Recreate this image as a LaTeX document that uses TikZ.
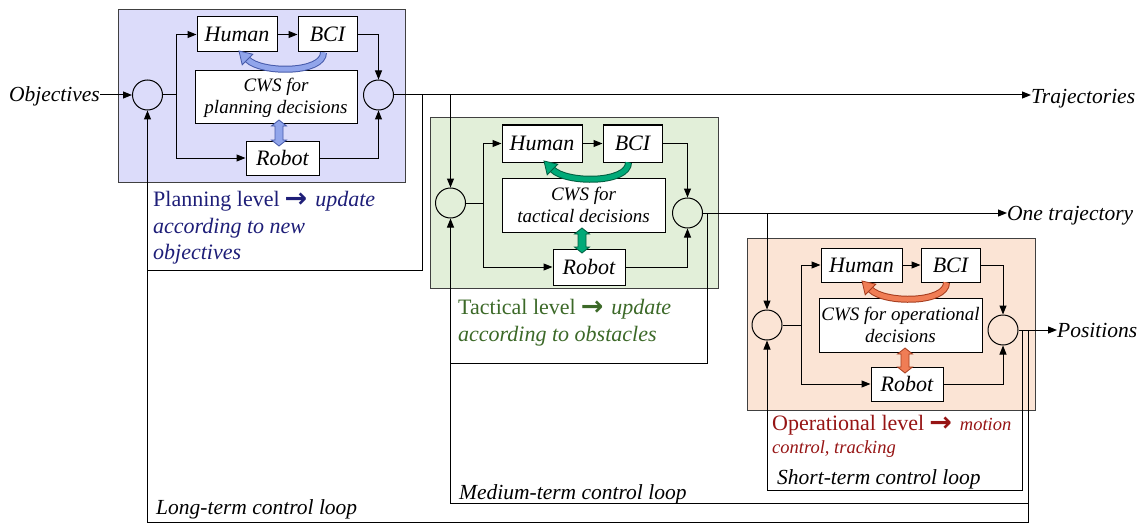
\documentclass[tikz,border=0pt]{standalone}
\usepackage{fontspec}
\setmainfont{Liberation Serif}
\newfontfamily\dejavu{DejaVu Sans}
\usetikzlibrary{arrows.meta}
\definecolor{planfill}{RGB}{220,220,250}
\definecolor{tactfill}{RGB}{226,239,217}
\definecolor{operfill}{RGB}{251,228,213}
\definecolor{plantext}{RGB}{30,30,120}
\definecolor{tacttext}{RGB}{60,105,40}
\definecolor{opertext}{RGB}{150,20,20}
\definecolor{planarcf}{RGB}{145,165,235}
\definecolor{planarcd}{RGB}{70,90,170}
\definecolor{tactarcf}{RGB}{0,170,120}
\definecolor{tactarcd}{RGB}{0,95,65}
\definecolor{operarcf}{RGB}{240,125,85}
\definecolor{operarcd}{RGB}{165,60,30}
\tikzset{
  arr/.style={-{Triangle[length=9pt,width=7pt]}, line width=1pt},
  ln/.style={line width=1pt},
  blk/.style={draw, fill=white, line width=1pt, inner sep=0pt, font=\fontsize{22}{26}\selectfont\itshape},
  cws/.style={draw, fill=white, line width=1pt, inner sep=0pt, align=center, font=\fontsize{19}{22}\selectfont\itshape},
  sumnode/.style={circle, draw, line width=1pt, minimum size=30pt, inner sep=0pt},
  levelbox/.style={draw=black!75, line width=1pt, inner sep=0pt},
  lbl/.style={inner sep=0pt, anchor=base west, font=\fontsize{21.5}{26}\selectfont\itshape},
  lvl/.style={inner sep=0pt, anchor=base west, font=\fontsize{22}{26}\selectfont},
}
\newcommand{\cwsarc}[3]{%
  \begin{scope}[shift={(#1.south west)}]
    \draw[line width=7pt, #3] (26,0) .. controls (26,21) and (-36,21) .. (-50,7);
    \draw[line width=5pt, #2] (26,0) .. controls (26,21) and (-36,21) .. (-50,7);
    \filldraw[fill=#2, draw=#3, line width=0.8pt] (-44.7,1.7) -- (-58.5,-1.5) -- (-55.3,12.3) -- cycle;
  \end{scope}}
\newcommand{\dblarr}[5]{%
  \filldraw[fill=#4, draw=#5, line width=0.8pt] (#1,#2) -- (#1+7.5,#2+6) -- (#1+4,#2+6) -- (#1+4,#3-6) -- (#1+7.5,#3-6) -- (#1,#3) -- (#1-7.5,#3-6) -- (#1-4,#3-6) -- (#1-4,#2+6) -- (#1-7.5,#2+6) -- cycle;}
\newcommand{\warr}{\hspace{5pt}\raisebox{-1.5pt}{\fontsize{27}{27}\dejavu\bfseries →}\hspace{8pt}}
\begin{document}
\begin{tikzpicture}[x=1pt,y=-1pt]
\useasboundingbox (0,0) rectangle (1142,524);
% level boxes
\node[levelbox, fill=planfill, minimum width=287pt, minimum height=172pt] (Pbox) at (261.5,96) {};
\node[levelbox, fill=tactfill, minimum width=288pt, minimum height=170pt] (Tbox) at (574,203) {};
\node[levelbox, fill=operfill, minimum width=288pt, minimum height=172pt] (Obox) at (891,324) {};
% planning level
\node[blk, minimum width=80pt, minimum height=35pt] (PH) at (237,34.5) {Human};
\node[blk, minimum width=59pt, minimum height=35pt] (PB) at (327.5,34.5) {BCI};
\node[cws, minimum width=162pt, minimum height=53pt] (PC) at (276,97.5) {CWS for\\planning decisions};
\node[blk, minimum width=73pt, minimum height=34pt] (PRo) at (282.5,158) {Robot};
\node[sumnode] (PL) at (147.5,95) {};
\node[sumnode] (PO) at (378.5,95) {};
% tactical level
\node[blk, minimum width=80pt, minimum height=37pt] (TH) at (542,143.5) {Human};
\node[blk, minimum width=59pt, minimum height=37pt] (TB) at (632.5,143.5) {BCI};
\node[cws, minimum width=163pt, minimum height=54pt] (TC) at (583.5,205) {CWS for\\tactical decisions};
\node[blk, minimum width=72pt, minimum height=36pt] (TRo) at (589,267) {Robot};
\node[sumnode] (TL) at (450.5,203) {};
\node[sumnode] (TO) at (687.5,213) {};
% operational level
\node[blk, minimum width=81pt, minimum height=34pt] (OH) at (861.5,265) {Human};
\node[blk, minimum width=59pt, minimum height=34pt] (OB) at (950.5,265) {BCI};
\node[cws, minimum width=163pt, minimum height=54pt] (OC) at (900.5,325) {CWS for operational\\decisions};
\node[blk, minimum width=72pt, minimum height=34pt] (ORo) at (907,384) {Robot};
\node[sumnode] (OL) at (767,325) {};
\node[sumnode] (OO) at (1003,330) {};
% outer labels
\node[lbl, anchor=base east] (obj) at (100,102) {Objectives};
\node[lbl] (traj) at (1031,103) {Trajectories};
\node[lbl] (onetraj) at (1007,220) {One trajectory};
\node[lbl] (pos) at (1057,337) {Positions};
% helper coordinates
\coordinate (Pb) at (176,95);
\coordinate (Tb) at (483,203);
\coordinate (Ob) at (801,325);
\coordinate (Pf) at (422,95);
\coordinate (Tf) at (707,213);
\coordinate (Os) at (1022,330);
\coordinate (Ol) at (1028,330);
\coordinate (yP) at (0,270);
\coordinate (yT) at (0,363);
\coordinate (yS) at (0,490);
\coordinate (yM) at (0,503);
\coordinate (yL) at (0,522);
% planning connections
\draw[arr] (obj.east |- PL.west) -- (PL.west);
\draw[ln] (PL.east) -- (Pb);
\draw[arr] (Pb) |- (PH.west);
\draw[arr] (Pb) |- (PRo.west);
\draw[arr] (PH.east) -- (PB.west);
\draw[arr] (PB.east) -| (PO.north);
\draw[arr] (PRo.east) -| (PO.south);
\draw[arr] (PO.east) -- (traj.west |- PO.east);
\draw[arr] (TL.north |- PO.east) -- (TL.north);
\draw[ln] (Pf) -- (Pf |- yP) -- (PL.south |- yP);
% tactical connections
\draw[ln] (TL.east) -- (Tb);
\draw[arr] (Tb) |- (TH.west);
\draw[arr] (Tb) |- (TRo.west);
\draw[arr] (TH.east) -- (TB.west);
\draw[arr] (TB.east) -| (TO.north);
\draw[arr] (TRo.east) -| (TO.south);
\draw[arr] (TO.east) -- (onetraj.west |- TO.east);
\draw[arr] (OL.north |- TO.east) -- (OL.north);
\draw[ln] (Tf) -- (Tf |- yT) -- (TL.south |- yT);
% operational connections
\draw[ln] (OL.east) -- (Ob);
\draw[arr] (Ob) |- (OH.west);
\draw[arr] (Ob) |- (ORo.west);
\draw[arr] (OH.east) -- (OB.west);
\draw[arr] (OB.east) -| (OO.north);
\draw[arr] (ORo.east) -| (OO.south);
\draw[arr] (OO.east) -- (pos.west |- OO.east);
% feedback loops
\draw[arr] (Os) -- (Os |- yS) -- (OL.south |- yS) -- (OL.south);
\draw[arr] (Ol |- yM) -- (TL.south |- yM) -- (TL.south);
\draw[arr] (Ol) -- (Ol |- yL) -- (PL.south |- yL) -- (PL.south);
% curved arrows
\cwsarc{PB}{planarcf}{planarcd}
\cwsarc{TB}{tactarcf}{tactarcd}
\cwsarc{OB}{operarcf}{operarcd}
% vertical double arrows
\dblarr{279}{120}{146}{planarcf}{planarcd}
\dblarr{582}{228}{253}{tactarcf}{tactarcd}
\dblarr{905}{348}{373}{operarcf}{operarcd}
% level texts
\node[lvl, text=plantext] (Pt1) at (153,206) {Planning level\warr\textit{update}};
\node[lvl, text=plantext] (Pt2) at (153,233) {\itshape according to new};
\node[lvl, text=plantext] (Pt3) at (153,259) {\itshape objectives};
\node[lvl, text=tacttext] (Tt1) at (458,314) {Tactical level\warr\textit{update}};
\node[lvl, text=tacttext] (Tt2) at (458,341) {\itshape according to obstacles};
\node[lvl, text=opertext] (Ot1) at (772,430) {Operational level\warr{\fontsize{18.5}{22}\selectfont\itshape motion}};
\node[lvl, text=opertext] (Ot2) at (772,453) {\fontsize{18.5}{22}\selectfont\itshape control, tracking};
\node[lbl] (st) at (777,484) {Short-term control loop};
\node[lbl] (mt) at (459,499) {Medium-term control loop};
\node[lbl] (lt) at (156,514) {Long-term control loop};
\end{tikzpicture}
\end{document}
